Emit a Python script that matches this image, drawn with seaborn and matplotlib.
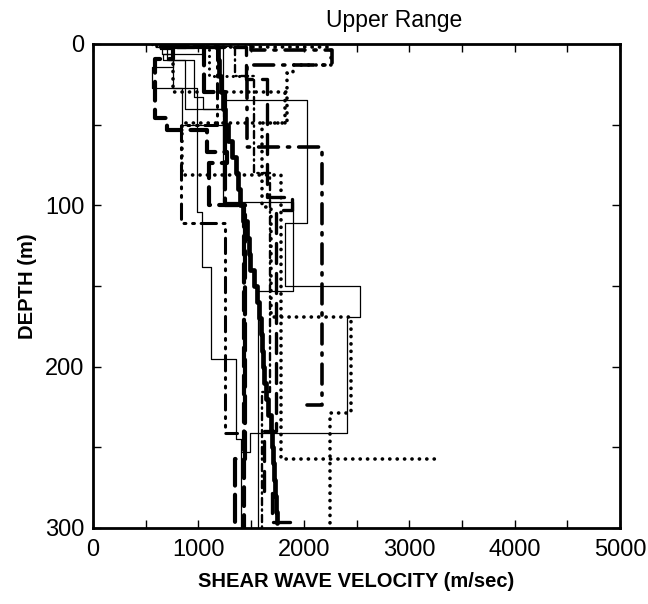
import numpy as np
import pandas as pd
import matplotlib
matplotlib.use("Agg")
import matplotlib.pyplot as plt
import seaborn as sns

# ---- shear-wave velocity profiles (layer boundaries in m, velocities in m/s) ----
# When a profile has as many velocities as boundaries, the last velocity is the
# half-space below the deepest boundary and is drawn as a short horizontal stub.
median_depth = [0, 2, 10, 20, 30, 40, 50, 60, 70, 80, 90, 100, 110, 120, 130, 140,
                150, 160, 170, 180, 190, 200, 210, 220, 230, 240, 250, 260, 270,
                280, 290, 297]
median_vel = [1170, 1185, 1200, 1215, 1235, 1255, 1285, 1320, 1360, 1380, 1395,
              1420, 1460, 1480, 1490, 1530, 1560, 1575, 1595, 1605, 1615, 1625,
              1645, 1665, 1685, 1700, 1710, 1715, 1725, 1735, 1750]

a_depth = [0, 2, 35, 111, 150, 169, 241, 253]
a_vel = [600, 1230, 2030, 1820, 2530, 2410, 1490, 1400]

b_depth = [0, 2, 6, 27, 104, 138, 195, 245, 300]
b_vel = [900, 650, 760, 990, 1030, 1120, 1360, 1400]

i_depth = [0, 6, 10, 40, 98, 153, 300]
i_vel = [1040, 665, 870, 1230, 1900, 1570]

j_depth = [0, 3, 14, 27, 50]
j_vel = [640, 760, 560, 845, 1230]

n_depth = [0, 1, 10, 33, 40]
n_vel = [1300, 700, 960, 1040, 1230]

c_depth = [0, 2, 13, 18, 30, 49, 101, 169, 229, 300]
c_vel = [700, 2260, 1900, 1840, 1820, 1600, 1690, 2450, 2250]

d_depth = [0, 2, 30, 49, 81, 257]
d_vel = [600, 760, 1840, 840, 1780, 3250]

p_depth = [0, 1.5, 20]
p_vel = [560, 1100, 1500]

e_depth = [0, 50, 111, 241]
e_vel = [1180, 835, 1250, 1370]

f_depth = [0, 9, 46, 53, 67, 74, 100, 300]
f_vel = [760, 590, 700, 1080, 1270, 1100, 1430]

g_depth = [0, 4, 13, 64, 224]
g_vel = [1500, 2270, 1460, 2170, 2030]

h_depth = [0, 2, 22, 95, 103, 240, 278, 296]
h_vel = [800, 1450, 1650, 1890, 1740, 1620, 1700, 1870]

k_depth = [0, 2, 30, 100, 257, 300]
k_vel = [650, 1050, 1250, 1440, 1350]

m_depth = [0, 2, 20, 80, 216, 300]
m_vel = [900, 1350, 1530, 1680, 1600]

x_ticks = [0, 1000, 2000, 3000, 4000, 5000]
y_ticks = [0, 100, 200, 300]


def step_frame(depth, vel):
    """Turn layer boundaries/velocities into the corner points of a step profile."""
    vs, ds = [], []
    n_layers = len(depth) - 1
    for k in range(n_layers):
        vs += [vel[k], vel[k]]
        ds += [depth[k], depth[k + 1]]
    if len(vel) == len(depth):          # half-space stub
        vs.append(vel[-1])
        ds.append(depth[-1])
    return pd.DataFrame({"velocity": vs, "depth": ds})


dot = (0, (0.05, 2.0))
profiles = [
    # (depth, vel, linestyle, linewidth)
    (a_depth, a_vel, "-", 0.9),
    (b_depth, b_vel, "-", 0.9),
    (i_depth, i_vel, "-", 0.9),
    (j_depth, j_vel, "-", 0.9),
    (n_depth, n_vel, "-", 0.9),
    (c_depth, c_vel, dot, 2.6),
    (d_depth, d_vel, dot, 2.6),
    (p_depth, p_vel, dot, 2.2),
    (e_depth, e_vel, (0, (5, 2.2, 0.6, 2.2, 0.6, 2.2)), 2.2),
    (f_depth, f_vel, (0, (4.5, 2.2)), 3.0),
    (g_depth, g_vel, (0, (5.5, 2.5, 0.6, 2.5)), 2.6),
    (h_depth, h_vel, (0, (6, 3)), 2.4),
    (k_depth, k_vel, (0, (6.5, 2.2)), 3.0),
    (m_depth, m_vel, (0, (3, 1.8, 0.6, 1.8)), 1.7),
]

sns.set_theme(style="white")
plt.rcParams["font.family"] = ["Liberation Sans", "DejaVu Sans"]
plt.rcParams.update({"text.color": "black", "axes.labelcolor": "black",
                     "xtick.color": "black", "ytick.color": "black"})

fig = plt.figure(figsize=(6.48, 6.04), dpi=100)
ax = fig.add_axes([93 / 648, 1 - 528 / 604, 527 / 648, 484 / 604])

for depth, vel, ls, lw in profiles:
    sns.lineplot(data=step_frame(depth, vel), x="velocity", y="depth",
                 sort=False, estimator=None, color="black", linestyle=ls,
                 linewidth=lw, dash_capstyle="round", ax=ax)

sns.lineplot(data=step_frame(median_depth, median_vel), x="velocity", y="depth",
             sort=False, estimator=None, color="black", linewidth=3.4, ax=ax)

ax.set_xlim(0, 5000)
ax.set_ylim(300, 0)
ax.set_xticks(x_ticks)
ax.set_xticks(np.arange(0, 5001, 500), minor=True)
ax.set_yticks(y_ticks)
ax.set_yticks(np.arange(0, 301, 50), minor=True)
ax.set_xticklabels([str(t) for t in x_ticks])
ax.set_yticklabels([str(t) for t in y_ticks])
ax.tick_params(which="both", direction="in", top=True, right=True,
               bottom=True, left=True, length=6, width=1, color="black",
               labelsize=17, pad=8)
ax.tick_params(axis="y", pad=6)
for s in ax.spines.values():
    s.set_linewidth(2)
    s.set_color("black")

ax.set_xlabel("SHEAR WAVE VELOCITY (m/sec)", fontsize=14.5, fontweight="bold",
              labelpad=8)
ax.set_ylabel("DEPTH (m)", fontsize=14.5, fontweight="bold", labelpad=6)
fig.text(394 / 648, 1 - 20 / 604, "Upper Range", fontsize=16.5, ha="center",
         va="center")

fig.savefig("out.png", dpi=100, facecolor="white")
